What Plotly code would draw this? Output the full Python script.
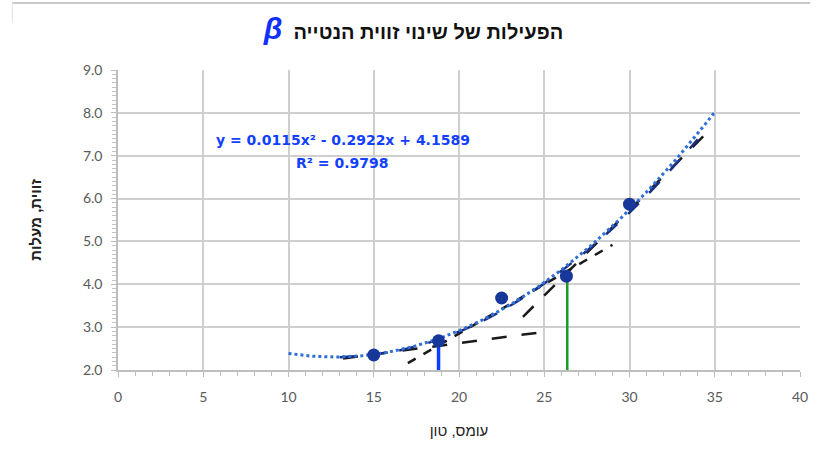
import numpy as np
import plotly.graph_objects as go

# Measured points: load (ton) vs. angle (degrees)
load_t = [15.0, 18.8, 22.5, 26.3, 30.0]
angle_deg = [2.35, 2.68, 3.68, 4.19, 5.87]

# Second-order trendline coefficients (a*x^2 + b*x + c) and its range
trend_coef = [0.0115, -0.2922, 4.1589]
trend_r2 = 0.9798
trend_range = [10, 35]

# Smoothed curve through the data region
smooth_x = [13, 15, 17, 19, 21, 23, 25, 27, 29, 31, 33, 34]
smooth_y = [2.30, 2.36, 2.50, 2.74, 3.07, 3.50, 4.02, 4.62, 5.30, 6.07, 6.93, 7.38]

# Tangent lines (end points)
tan15_x, tan15_y = [13.2, 25.0], [2.27, 2.89]
tan22_x, tan22_y = [17.0, 29.0], [2.16, 4.92]
tan30_x, tan30_y = [23.75, 34.7], [3.24, 7.60]

# Vertical markers for the two working loads
vline_blue = [18.8, 2.65]
vline_green = [26.35, 4.2]

x_ticks = [0, 5, 10, 15, 20, 25, 30, 35, 40]
y_ticks = [2.0, 3.0, 4.0, 5.0, 6.0, 7.0, 8.0, 9.0]

a, b, c = trend_coef
tx = np.linspace(trend_range[0], trend_range[1], 120)
ty = a * tx**2 + b * tx + c

fig = go.Figure()

fig.add_trace(go.Scatter(x=[vline_blue[0]] * 2, y=[y_ticks[0], vline_blue[1]],
                         mode="lines", line=dict(color="#0a3cff", width=3.5),
                         hoverinfo="skip"))
fig.add_trace(go.Scatter(x=[vline_green[0]] * 2, y=[y_ticks[0], vline_green[1]],
                         mode="lines", line=dict(color="#1f9a2a", width=2.5),
                         hoverinfo="skip"))

fig.add_trace(go.Scatter(x=tan15_x, y=tan15_y, mode="lines",
                         line=dict(color="#1a1a1a", width=2.5, dash="longdash")))
fig.add_trace(go.Scatter(x=tan22_x, y=tan22_y, mode="lines",
                         line=dict(color="#1a1a1a", width=2.5, dash="dash")))
fig.add_trace(go.Scatter(x=tan30_x, y=tan30_y, mode="lines",
                         line=dict(color="#1a1a1a", width=2.5, dash="longdash")))

fig.add_trace(go.Scatter(x=smooth_x, y=smooth_y, mode="lines", line_shape="spline",
                         line=dict(color="#1a2f80", width=2.5, dash="longdash")))

fig.add_trace(go.Scatter(x=tx, y=ty, mode="lines",
                         line=dict(color="#2f6fd6", width=3, dash="dot")))

fig.add_trace(go.Scatter(x=load_t, y=angle_deg, mode="markers",
                         marker=dict(color="#17379a", size=13)))

# Trendline equation and R²
eq_font = dict(family="DejaVu Sans", size=14, color="#1240ff", weight="bold")
fig.add_annotation(x=13.17, y=7.37, xref="x", yref="y", showarrow=False,
                   text=f"y = {a:.4f}x² - {abs(b):.4f}x + {c:.4f}", font=eq_font)
fig.add_annotation(x=13.15, y=6.83, xref="x", yref="y", showarrow=False,
                   text=f"R² = {trend_r2:.4f}", font=eq_font)

fig.update_layout(
    title=dict(
        text=("<span style='color:#1030ff;font-size:30px'><i>β</i></span>"
              "  הפעילות של שינוי זווית הנטייה"),
        x=0.5, xanchor="center", y=0.93, yanchor="middle",
        font=dict(family="Liberation Sans", size=20, color="#111111", weight="bold"),
    ),
)

# Light frame of the chart area
fig.add_shape(type="line", xref="paper", yref="paper",
              x0=-0.155, x1=1.015, y0=1.223, y1=1.223,
              line=dict(color="#c9c9c9", width=2))
fig.add_shape(type="line", xref="paper", yref="paper",
              x0=-0.155, x1=-0.155, y0=1.223, y1=1.16,
              line=dict(color="#e0e0e0", width=1))

tick_font = dict(family="Lato", size=14, color="#595959")
fig.update_xaxes(
    range=[0, 40], tickvals=x_ticks, ticktext=[str(v) for v in x_ticks],
    showgrid=True, gridcolor="#cfcfcf", gridwidth=1.5,
    showline=True, linecolor="#bdbdbd", linewidth=1.5, mirror=False,
    ticks="outside", ticklen=5, tickcolor="#bdbdbd", ticklabelstandoff=8,
    minor=dict(dtick=1, ticks="outside", ticklen=4, tickcolor="#bdbdbd", showgrid=False),
    tickfont=tick_font, zeroline=False,
    title=dict(text="עומס, טון", font=dict(family="Liberation Sans", size=15, color="#222222"),
               standoff=22),
)
fig.update_yaxes(
    range=[2, 9], tickvals=y_ticks, ticktext=[f"{v:.1f}" for v in y_ticks],
    showgrid=True, gridcolor="#cfcfcf", gridwidth=1.5,
    showline=True, linecolor="#bdbdbd", linewidth=1.5,
    ticks="outside", ticklen=5, tickcolor="#bdbdbd", ticklabelstandoff=6,
    minor=dict(dtick=0.1, ticks="outside", ticklen=4, tickcolor="#c4c4c4", showgrid=False),
    tickfont=tick_font, zeroline=False,
    title=dict(text="זווית, מעלות", font=dict(family="Liberation Sans", size=15, color="#222222",
                                              weight="bold"),
               standoff=38),
)

fig.update_layout(
    width=827, height=450,
    margin=dict(l=118, r=27, t=70, b=80),
    plot_bgcolor="white", paper_bgcolor="white",
    showlegend=False,
)

fig.write_html("out.html")
